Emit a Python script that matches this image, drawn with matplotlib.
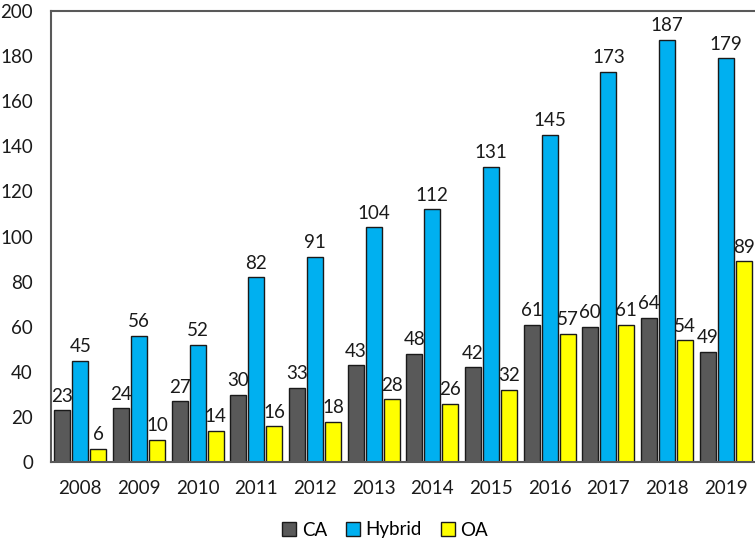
import matplotlib
matplotlib.use("Agg")
import matplotlib.pyplot as plt
import numpy as np

years = ["2008", "2009", "2010", "2011", "2012", "2013", "2014", "2015", "2016", "2017", "2018", "2019"]
ca = [23, 24, 27, 30, 33, 43, 48, 42, 61, 60, 64, 49]
hybrid = [45, 56, 52, 82, 91, 104, 112, 131, 145, 173, 187, 179]
oa = [6, 10, 14, 16, 18, 28, 26, 32, 57, 61, 54, 89]
series_names = ["CA", "Hybrid", "OA"]
colors = ["#595959", "#00B0F0", "#FFFF00"]

plt.rcParams['font.family'] = ['Lato', 'DejaVu Sans']

fig = plt.figure(figsize=(7.55, 5.43), dpi=100)
ax = fig.add_axes([51/755, 1-462.3/543, 1-51/755, (462.3-10.7)/543])

x = np.arange(len(years))
w = 0.273
off = 0.307
fs = 13.5
handles = []
for i, (vals, name, c) in enumerate(zip([ca, hybrid, oa], series_names, colors)):
    bars = ax.bar(x + (i-1)*off, vals, width=w, color=c, edgecolor="#1a1a1a", linewidth=1.0, label=name)
    handles.append(bars)
    for xi, v in zip(x + (i-1)*off, vals):
        ax.annotate(str(v), (xi, v), xytext=(0, 4), textcoords="offset points",
                    ha="center", va="bottom", fontsize=fs, color="#1a1a1a")

ax.set_xlim(-0.5, len(years)-0.5)
ax.set_ylim(0, 200)
ax.set_yticks(range(0, 201, 20))
ax.set_xticks(x)
ax.set_xticklabels(years)
ax.tick_params(axis='both', length=0, labelsize=fs, colors="#1a1a1a")
ax.tick_params(axis='y', pad=13)
ax.tick_params(axis='x', pad=13)
for s in ["left", "top", "bottom"]:
    ax.spines[s].set_color("#595959")
    ax.spines[s].set_linewidth(1.5)
ax.spines["right"].set_visible(False)

fig.legend(handles=handles, labels=series_names, loc="center", bbox_to_anchor=(385/755, 1-530/543),
           ncol=3, frameon=False, fontsize=fs, handlelength=0.75, handleheight=0.75,
           handletextpad=0.3, columnspacing=1.0)

fig.savefig("out.png", dpi=100)
